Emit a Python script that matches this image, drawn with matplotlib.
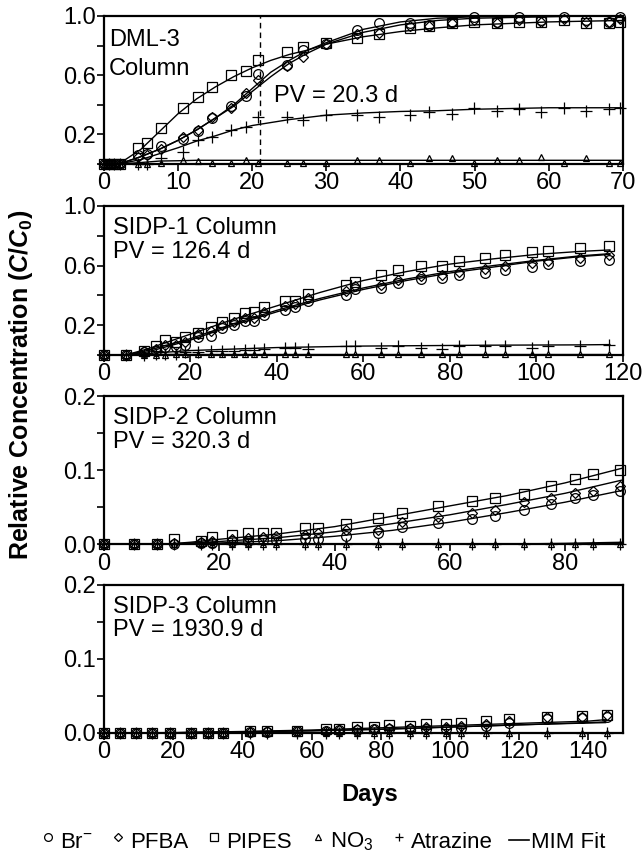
import matplotlib.pyplot as plt
from matplotlib.lines import Line2D
from matplotlib.legend_handler import HandlerLine2D

plt.rcParams['font.family'] = ['Liberation Sans', 'DejaVu Sans']
plt.rcParams['mathtext.fontset'] = 'custom'
plt.rcParams['mathtext.it'] = 'Liberation Sans:italic:bold'
plt.rcParams['mathtext.rm'] = 'Liberation Sans:bold'
plt.rcParams['mathtext.bf'] = 'Liberation Sans:bold'

# DML-3 column, observed
dml_days = [0, 0.7, 1.4, 2.1, 4.6, 5.8, 7.7, 10.7, 12.7, 14.6, 17.2, 19.1, 20.8, 24.7, 26.8,
            29.9, 34.1, 37.1, 41.3, 43.8, 46.9, 49.9, 53.0, 56.0, 58.9, 62.0, 65.0, 68.1, 69.6]
dml_br = [0, 0, 0, 0, 0.06, 0.07, 0.12, 0.17, 0.22, 0.31, 0.39, 0.46, 0.61, 0.67, 0.77,
          0.81, 0.905, 0.95, 0.95, 0.94, 0.96, 0.99, 0.96, 0.99, 0.97, 0.99, 0.97, 0.96, 0.99]
dml_pfba = [0, 0, 0, 0, 0.05, 0.06, 0.10, 0.18, 0.23, 0.32, 0.38, 0.48, 0.57, 0.66, 0.72,
            0.81, 0.88, 0.885, 0.93, 0.93, 0.95, 0.975, 0.95, 0.975, 0.96, 0.98, 0.96, 0.96, 0.98]
dml_pipes = [0, 0, 0, 0, 0.11, 0.14, 0.24, 0.38, 0.45, 0.52, 0.60, 0.63, 0.70, 0.76, 0.79,
             0.82, 0.85, 0.88, 0.92, 0.93, 0.95, 0.96, 0.95, 0.96, 0.96, 0.97, 0.95, 0.95, 0.96]
dml_no3 = [0, 0, 0, 0, 0, 0, 0.005, 0.027, 0.02, 0.01, 0.005, 0.03, 0.01, 0.01, 0.01,
           0.01, 0.03, 0.027, 0.01, 0.04, 0.04, 0.01, 0.03, 0.027, 0.045, 0.01, 0.04, 0.01, 0.01]
dml_atz = [0, 0, 0, 0, 0, 0, 0.04, 0.08, 0.16, 0.18, 0.23, 0.25, 0.32, 0.32, 0.30,
           0.33, 0.33, 0.32, 0.33, 0.35, 0.34, 0.38, 0.36, 0.37, 0.35, 0.38, 0.36, 0.37, 0.38]

# DML-3 column, MIM fit
dml_fit_days = [0, 2, 5, 7.5, 10, 12.5, 15, 17.5, 20, 22.5, 25, 27.5, 30, 35, 40, 45, 50, 55, 60, 65, 70]
dml_fit_br = [0, 0, 0.05, 0.10, 0.16, 0.23, 0.31, 0.40, 0.51, 0.62, 0.70, 0.77, 0.82, 0.91, 0.96,
              0.985, 0.995, 1.0, 1.0, 1.0, 1.0]
dml_fit_pfba = [0, 0, 0.05, 0.10, 0.16, 0.23, 0.31, 0.39, 0.49, 0.59, 0.68, 0.75, 0.81, 0.89, 0.94,
                0.97, 0.985, 0.99, 0.995, 1.0, 1.0]
dml_fit_pipes = [0, 0, 0.10, 0.22, 0.34, 0.44, 0.52, 0.59, 0.65, 0.70, 0.74, 0.77, 0.81, 0.86, 0.895,
                 0.92, 0.94, 0.95, 0.96, 0.965, 0.97]
dml_fit_no3 = [0, 0, 0.01, 0.02, 0.022, 0.025, 0.025, 0.025, 0.025, 0.025, 0.025, 0.025, 0.025, 0.025,
               0.025, 0.025, 0.025, 0.025, 0.025, 0.025, 0.025]
dml_fit_atz = [0, 0, 0.03, 0.07, 0.11, 0.155, 0.19, 0.23, 0.26, 0.28, 0.30, 0.315, 0.33, 0.345, 0.355,
               0.36, 0.37, 0.375, 0.38, 0.38, 0.38]

# SIDP-1 column, observed
s1_days = [0, 5.1, 9.3, 12.0, 14.1, 16.6, 18.7, 21.8, 24.8, 27.4, 30.1, 32.5, 34.7, 37.1, 41.9,
           44.1, 47.2, 56.0, 58.1, 64.1, 67.9, 73.2, 78.1, 82.0, 88.2, 92.8, 98.9, 102.8, 110.0, 116.9]
s1_br = [0, 0, 0.02, 0.03, 0.055, 0.055, 0.07, 0.12, 0.13, 0.18, 0.20, 0.23, 0.23, 0.27, 0.30,
         0.32, 0.36, 0.40, 0.44, 0.45, 0.485, 0.51, 0.52, 0.54, 0.55, 0.57, 0.59, 0.61, 0.63, 0.64]
s1_pfba = [0, 0, 0.03, 0.04, 0.07, 0.07, 0.09, 0.14, 0.16, 0.20, 0.22, 0.25, 0.25, 0.29, 0.33,
           0.34, 0.38, 0.43, 0.46, 0.47, 0.50, 0.53, 0.54, 0.56, 0.58, 0.60, 0.62, 0.63, 0.65, 0.67]
s1_pipes = [0, 0, 0.03, 0.06, 0.10, 0.09, 0.12, 0.15, 0.19, 0.22, 0.25, 0.28, 0.29, 0.32, 0.36,
            0.36, 0.41, 0.47, 0.49, 0.54, 0.57, 0.60, 0.60, 0.63, 0.65, 0.67, 0.69, 0.70, 0.72, 0.73]
s1_no3 = [0, 0, 0, 0, 0.003, 0.005, 0.005, 0.005, 0.005, 0.005, 0.005, 0.005, 0.005, 0.005, 0.005,
          0.005, 0.005, 0.005, 0.005, 0.005, 0.005, 0.005, 0.005, 0.005, 0.005, 0.005, 0.005, 0.005, 0.005, 0.005]
s1_atz = [0, 0, 0, 0.01, 0.01, 0.01, 0.02, 0.02, 0.03, 0.03, 0.03, 0.035, 0.035, 0.04, 0.05,
          0.05, 0.04, 0.06, 0.06, 0.05, 0.06, 0.05, 0.04, 0.06, 0.06, 0.06, 0.05, 0.06, 0.06, 0.07]

# SIDP-1 column, MIM fit
s1_fit_days = [0, 5, 10, 15, 20, 25, 30, 40, 50, 60, 70, 80, 90, 100, 110, 117]
s1_fit_br = [0, 0, 0.02, 0.06, 0.10, 0.15, 0.20, 0.29, 0.37, 0.44, 0.50, 0.55, 0.59, 0.63, 0.66, 0.675]
s1_fit_pfba = [0, 0, 0.03, 0.07, 0.11, 0.16, 0.21, 0.30, 0.38, 0.45, 0.51, 0.56, 0.60, 0.635, 0.665, 0.68]
s1_fit_pipes = [0, 0, 0.04, 0.09, 0.14, 0.19, 0.24, 0.33, 0.42, 0.50, 0.56, 0.61, 0.645, 0.675, 0.695, 0.705]
s1_fit_no3 = [0, 0, 0.002, 0.003, 0.003, 0.003, 0.003, 0.003, 0.003, 0.003, 0.003, 0.003, 0.003, 0.003, 0.003, 0.003]
s1_fit_atz = [0, 0, 0.01, 0.02, 0.03, 0.035, 0.04, 0.05, 0.055, 0.06, 0.062, 0.064, 0.066, 0.067, 0.068, 0.07]

# SIDP-2 column, observed
s2_days = [0, 5.2, 9.2, 12.1, 16.8, 18.7, 22.2, 25.0, 27.5, 29.9, 34.8, 37.1, 42.0,
           47.5, 51.7, 57.9, 63.9, 67.8, 72.8, 77.6, 81.7, 84.8, 89.5]
s2_br = [0, 0, 0, 0, 0.002, 0.002, 0.004, 0.005, 0.006, 0.006, 0.007, 0.007, 0.012,
         0.015, 0.024, 0.029, 0.034, 0.038, 0.046, 0.054, 0.062, 0.067, 0.072]
s2_pfba = [0, 0, 0, 0.002, 0.003, 0.004, 0.007, 0.009, 0.010, 0.011, 0.013, 0.015, 0.020,
           0.020, 0.030, 0.037, 0.043, 0.046, 0.057, 0.062, 0.070, 0.072, 0.079]
s2_pipes = [0, 0, 0, 0.007, 0.005, 0.010, 0.013, 0.015, 0.016, 0.016, 0.022, 0.022, 0.027,
            0.036, 0.043, 0.052, 0.059, 0.062, 0.068, 0.079, 0.088, 0.095, 0.100]
s2_no3 = [0] * 23
s2_atz = [0] * 23

# SIDP-2 column, MIM fit
s2_fit_days = [0, 10, 15, 20, 30, 40, 50, 60, 70, 80, 90]
s2_fit_br = [0, 0, 0.001, 0.002, 0.005, 0.011, 0.019, 0.030, 0.043, 0.057, 0.073]
s2_fit_pfba = [0, 0, 0.002, 0.004, 0.009, 0.017, 0.028, 0.040, 0.054, 0.069, 0.087]
s2_fit_pipes = [0, 0, 0.003, 0.007, 0.014, 0.024, 0.038, 0.052, 0.066, 0.083, 0.103]
s2_fit_no3 = [0] * 11
s2_fit_atz = [0, 0, 0, 0, 0, 0, 0, 0, 0.0005, 0.0015, 0.003]

# SIDP-3 column, observed
s3_days = [0, 4.6, 9.4, 13.9, 19.0, 25.3, 30.1, 34.4, 42.1, 47.2, 55.9, 64.1, 68.0, 73.2, 78.0,
           82.4, 88.4, 93.2, 99.0, 103.2, 110.4, 117.1, 128.1, 138.2, 145.3]
s3_br = [0, 0, 0, 0, 0, 0, 0, 0, 0.001, 0.001, 0.002, 0.003, 0.004, 0.004, 0.005,
         0.005, 0.006, 0.006, 0.006, 0.007, 0.010, 0.013, 0.019, 0.020, 0.021]
s3_pfba = [0, 0, 0, 0, 0, 0, 0, 0, 0.001, 0.002, 0.002, 0.003, 0.004, 0.005, 0.006,
           0.007, 0.007, 0.008, 0.008, 0.009, 0.012, 0.016, 0.021, 0.022, 0.024]
s3_pipes = [0, 0, 0, 0, 0, 0, 0, 0, 0.002, 0.002, 0.003, 0.005, 0.006, 0.008, 0.008,
            0.011, 0.010, 0.012, 0.012, 0.013, 0.016, 0.019, 0.021, 0.023, 0.024]
s3_no3 = [0] * 25
s3_atz = [0] * 25

# SIDP-3 column, MIM fit
s3_fit_days = [0, 20, 40, 60, 80, 100, 120, 140, 145]
s3_fit_br = [0, 0.0003, 0.0015, 0.003, 0.005, 0.008, 0.011, 0.0135, 0.014]
s3_fit_pfba = [0, 0.0003, 0.0015, 0.003, 0.005, 0.008, 0.011, 0.014, 0.015]
s3_fit_pipes = [0, 0.0005, 0.002, 0.004, 0.007, 0.010, 0.013, 0.016, 0.018]
s3_fit_no3 = [0] * 9
s3_fit_atz = [0] * 9

names = ['DML-3\nColumn', 'SIDP-1 Column', 'SIDP-2 Column', 'SIDP-3 Column']
pv_labels = ['PV = 20.3 d', 'PV = 126.4 d', 'PV = 320.3 d', 'PV = 1930.9 d']

panels = [
    (dml_days, [dml_br, dml_pfba, dml_pipes, dml_no3, dml_atz],
     dml_fit_days, [dml_fit_br, dml_fit_pfba, dml_fit_pipes, dml_fit_no3, dml_fit_atz]),
    (s1_days, [s1_br, s1_pfba, s1_pipes, s1_no3, s1_atz],
     s1_fit_days, [s1_fit_br, s1_fit_pfba, s1_fit_pipes, s1_fit_no3, s1_fit_atz]),
    (s2_days, [s2_br, s2_pfba, s2_pipes, s2_no3, s2_atz],
     s2_fit_days, [s2_fit_br, s2_fit_pfba, s2_fit_pipes, s2_fit_no3, s2_fit_atz]),
    (s3_days, [s3_br, s3_pfba, s3_pipes, s3_no3, s3_atz],
     s3_fit_days, [s3_fit_br, s3_fit_pfba, s3_fit_pipes, s3_fit_no3, s3_fit_atz]),
]

# marker style per solute: br, pfba, pipes, no3, atrazine
mstyles = [('o', 7), ('D', 5.5), ('s', 7), ('^', 5), ('+', 8)]

# axes boxes in figure fractions
boxes = [[0.1617, 0.8093, 0.807, 0.1721],
         [0.1617, 0.5872, 0.807, 0.1733],
         [0.1617, 0.3669, 0.807, 0.1726],
         [0.1617, 0.1477, 0.807, 0.1721]]
xlims = [70, 120, 90, 150]
xsteps = [10, 20, 20, 20]


# legend markers sit raised, like superscripts
class RaisedHandler(HandlerLine2D):
    def create_artists(self, legend, orig_handle, xdescent, ydescent, width, height, fontsize, trans):
        return super().create_artists(legend, orig_handle, xdescent, ydescent - 0.4 * height,
                                      width, height, fontsize, trans)


fig = plt.figure(figsize=(6.43, 8.6), dpi=100)

for i, (days, obs, fdays, fits) in enumerate(panels):
    ax = fig.add_axes(boxes[i])
    for f in fits:
        ax.plot(fdays, f, color='black', lw=1.0, zorder=2)
    for (m, ms), o in zip(mstyles, obs):
        ax.plot(days, o, ls='none', marker=m, ms=ms, mfc='none', mec='black', mew=0.9,
                zorder=3, clip_on=False)
    ax.set_xlim(0, xlims[i])
    ax.set_xticks(range(0, xlims[i] + 1, xsteps[i]))
    if i < 2:
        ax.set_ylim(0, 1.0)
        ax.set_yticks([0.2, 0.6, 1.0])
        ax.set_yticklabels(['0.2', '0.6', '1.0'])
        ax.set_yticks([0, 0.4, 0.8], minor=True)
    else:
        ax.set_ylim(0, 0.2)
        ax.set_yticks([0, 0.1, 0.2])
        ax.set_yticklabels(['0.0', '0.1', '0.2'])
        ax.set_yticks([0.05, 0.15], minor=True)
    for s in ax.spines.values():
        s.set_linewidth(1.6)
    ax.tick_params(which='both', direction='out', length=5, width=1.2, labelsize=17, pad=1)

    if i == 0:
        ax.axvline(21, color='black', lw=1.0, ls=(0, (4, 3)), zorder=1)
        ax.text(0.01, 0.797, 'DML-3', transform=ax.transAxes, fontsize=17, va='baseline')
        ax.text(0.01, 0.60, 'Column', transform=ax.transAxes, fontsize=17, va='baseline')
        ax.text(0.328, 0.421, pv_labels[i], transform=ax.transAxes, fontsize=17, va='baseline')
    else:
        ax.text(0.018, 0.81, names[i], transform=ax.transAxes, fontsize=17, va='baseline')
        ax.text(0.018, 0.652, pv_labels[i], transform=ax.transAxes, fontsize=17, va='baseline')

fig.text(0.575, 0.0756, 'Days', fontsize=17, weight='bold', ha='center', va='center')
fig.text(0.032, 0.553, r'Relative Concentration ($\mathit{C/C_0}$)', fontsize=18,
         weight='bold', rotation=90, ha='center', va='center')

# legend along the bottom
handles = [Line2D([], [], ls='none', marker=m, ms=ms * 0.8, mfc='none', mec='black', mew=0.9)
           for m, ms in mstyles]
fit_handle = Line2D([], [], color='black', lw=1.2)
handles.append(fit_handle)
labels = [r'Br$\mathregular{^{-}}$', 'PFBA', 'PIPES', r'NO$\mathregular{_3}$', 'Atrazine', 'MIM Fit']
hmap = {h: RaisedHandler() for h in handles[:5]}
fig.legend(handles, labels, loc='center', bbox_to_anchor=(0.5, 0.021), ncol=6, frameon=False,
           fontsize=16, handlelength=0.9, handletextpad=0.1, columnspacing=0.7,
           handler_map=hmap)

fig.savefig('out.png', dpi=100)
